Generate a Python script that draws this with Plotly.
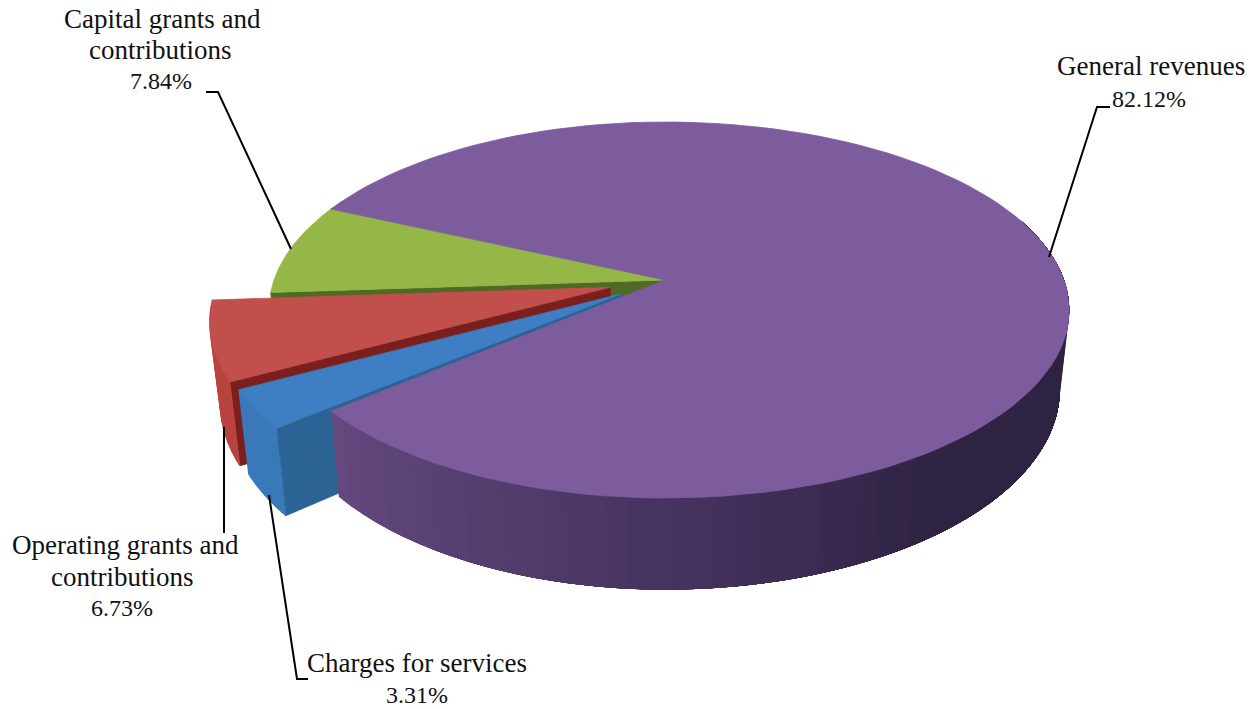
import numpy as np
import plotly.graph_objects as go

# ---- data ----
categories = ["Charges for services", "Operating grants and contributions",
              "Capital grants and contributions", "General revenues"]
shares = [3.31, 6.73, 7.84, 82.12]
share_labels = ["3.31%", "6.73%", "7.84%", "82.12%"]
explode = [0.135, 0.145, 0.0, 0.0]
top_colors = ["#3e7ec3", "#c14f4b", "#94b748", "#7d5c9e"]
face_colors = ["#2b6394", "#7b1f1d", "#4f6a24", "#5a4478"]
outer_colors = ["#3a79b9", "#b8433f", "#7f9e3c", "#5a4478"]

# ---- projection (pixel space of the 1257x709 page) ----
W, H = 1257, 709
X0, Y0, A, B, K, DEPTH, CONV = 665, 280, 399, 183.2, 0.1596, 77, 0.977
LEFT_SCALE = 0.98
START = 230.0


def project(angle_deg, r=1.0, bottom=False, e=0.0, mid=0.0):
    a = np.radians(np.asarray(angle_deg, dtype=float))
    m = np.radians(mid)
    X = r * np.sin(a) + e * np.sin(m)
    Y = r * np.cos(a) + e * np.cos(m)
    w = 1 + K * Y
    x = A * X / w
    x = np.where(x < 0, x * LEFT_SCALE, x)
    y = Y0 - B * Y / w
    if bottom:
        x = x * CONV
        y = y + DEPTH / w
    return X0 + x, y


edges = START + np.cumsum([0] + shares) * 3.6
fig = go.Figure()


def poly(xs, ys, color, name=None, lw=0.8):
    fig.add_trace(go.Scatter(x=list(np.ravel(xs)), y=list(np.ravel(ys)), mode="lines", fill="toself",
                             fillcolor=color, line=dict(color=color, width=lw),
                             hoverinfo="skip" if name is None else "text",
                             text=name, showlegend=False))


def mix(c1, c2, t):
    a = [int(c1[i:i + 2], 16) for i in (1, 3, 5)]
    b = [int(c2[i:i + 2], 16) for i in (1, 3, 5)]
    return "rgb(%d,%d,%d)" % tuple(a[i] + (b[i] - a[i]) * t for i in range(3))


def top(i):
    a = np.linspace(edges[i], edges[i + 1], 120)
    mid = (edges[i] + edges[i + 1]) / 2
    ax, ay = project(0, 0, e=explode[i], mid=mid)
    x, y = project(a, e=explode[i], mid=mid)
    poly(np.r_[ax, x, ax], np.r_[ay, y, ay], top_colors[i], categories[i])


def radial_face(i):
    ang = edges[i]
    mid = (edges[i] + edges[i + 1]) / 2
    e = explode[i]
    ax, ay = project(0, 0, e=e, mid=mid)
    bx, by = project(0, 0, True, e=e, mid=mid)
    ox, oy = project(ang, e=e, mid=mid)
    px, py = project(ang, 1.0, True, e=e, mid=mid)
    poly(np.r_[ax, ox, px, bx, ax], np.r_[ay, oy, py, by, ay], face_colors[i])


def outer_side(i):
    mid = (edges[i] + edges[i + 1]) / 2
    e = explode[i]
    seg = np.linspace(edges[i], edges[i + 1], 13)
    for s0, s1 in zip(seg[:-1], seg[1:]):
        x1, y1 = project([s0, s1], e=e, mid=mid)
        x2, y2 = project([s1, s0], 1.0, True, e=e, mid=mid)
        poly(np.r_[x1, x2], np.r_[y1, y2], outer_colors[i], lw=1.6)


# Capital grants
radial_face(2)
top(2)
# Operating grants
radial_face(1)
outer_side(1)
top(1)
# Charges for services
outer_side(0)
radial_face(0)
top(0)
# General revenues: side wall with a shading ramp, painted as nested bands so no seams show
SIDE_END = 70.0
seg = np.linspace(START, SIDE_END, 61)
for s0 in seg[:-1]:
    aa = np.linspace(s0, SIDE_END, 60)
    x1, y1 = project(aa)
    x2, y2 = project(aa[::-1], 1.0, True)
    t = (START - s0) / (START - SIDE_END)
    col = mix("#64497f", "#45345f", t / 0.31) if t < 0.31 else mix("#45345f", "#2e2343", min(1, (t - 0.31) / 0.23))
    poly(np.r_[x1, x2], np.r_[y1, y2], col, lw=0)
top(3)

# ---- leader lines ----
leaders = [
    ([1049, 1097, 1110], [257, 107, 107]),
    ([206, 218, 291], [92, 92, 249]),
    ([224, 224], [427, 533]),
    ([269, 297, 308], [495, 679, 679]),
]
for lx, ly in leaders:
    fig.add_trace(go.Scatter(x=lx, y=ly, mode="lines", line=dict(color="#000000", width=2),
                             hoverinfo="skip", showlegend=False))

# ---- labels ----
name_lines = [
    ("General revenues", 1151, 66),
    ("Capital grants and", 162, 19),
    ("contributions", 160, 50),
    ("Operating grants and", 125, 545),
    ("contributions", 122, 577),
    ("Charges for services", 417, 663),
]
pct_lines = [
    (share_labels[3], 1149, 99),
    (share_labels[2], 161, 81),
    (share_labels[1], 122, 608),
    (share_labels[0], 417, 695),
]
FONT = "Liberation Serif"
for txt, x, y in name_lines:
    fig.add_annotation(x=x, y=y, text=txt, showarrow=False, xanchor="center", yanchor="middle",
                       font=dict(family=FONT, size=27, color="#111111"))
for txt, x, y in pct_lines:
    fig.add_annotation(x=x, y=y, text=txt, showarrow=False, xanchor="center", yanchor="middle",
                       font=dict(family=FONT, size=24, color="#111111"))

fig.update_layout(
    width=W, height=H, margin=dict(l=0, r=0, t=0, b=0),
    paper_bgcolor="#ffffff", plot_bgcolor="#ffffff", showlegend=False,
    xaxis=dict(range=[0, W], visible=False, fixedrange=True),
    yaxis=dict(range=[H, 0], visible=False, fixedrange=True),
)
fig.write_html("out.html", config={"displayModeBar": False},
               post_script="document.body.style.margin='0';document.documentElement.style.overflow='hidden';")
